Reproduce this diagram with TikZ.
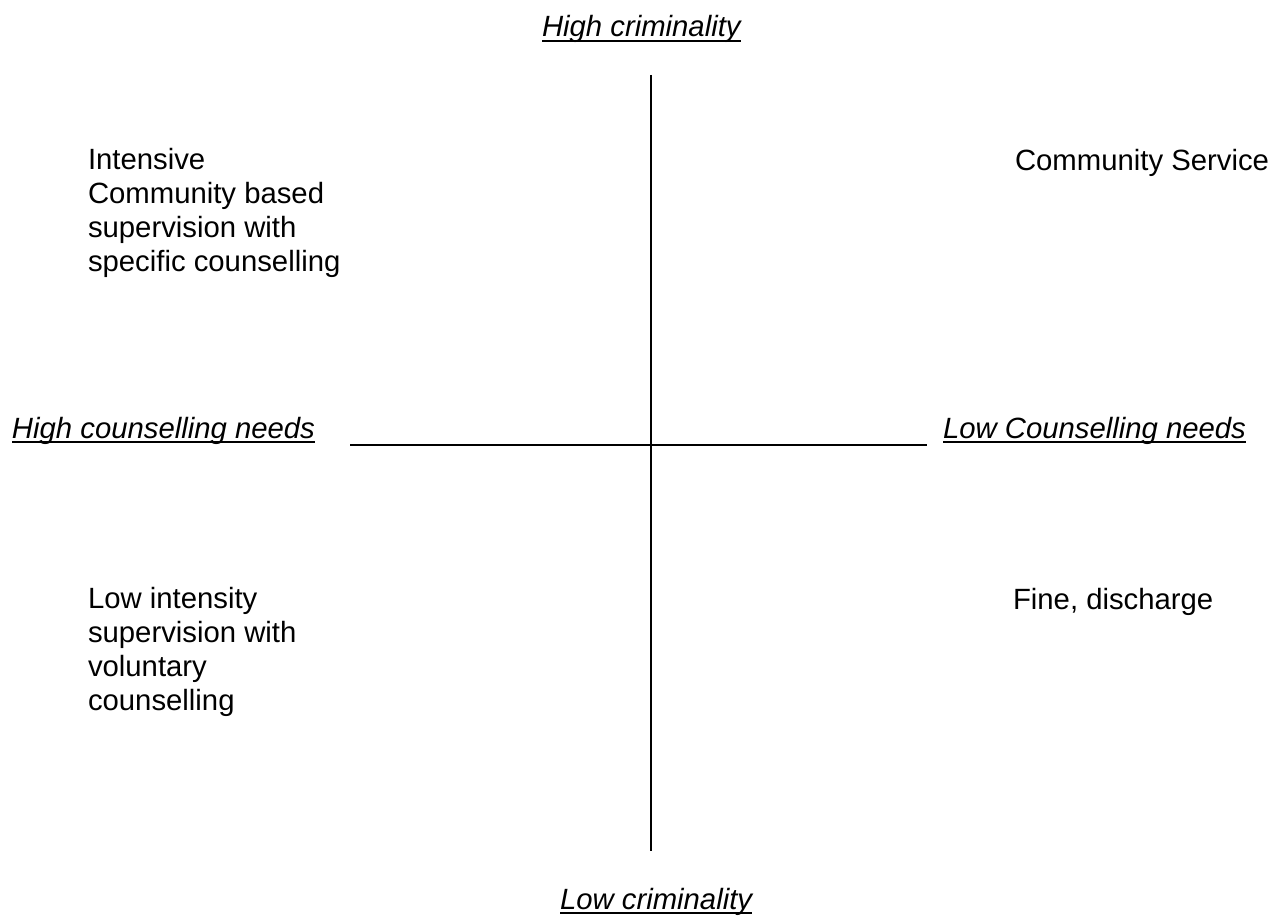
\documentclass[tikz,border=0pt]{standalone}
\usepackage{fontspec}
\setmainfont{Liberation Sans}
\begin{document}
\begin{tikzpicture}[x=1pt,y=-1pt,
  lbl/.style={inner sep=0pt,outer sep=0pt,anchor=base west,font=\fontsize{29.3}{33.7}\selectfont},
  axislbl/.style={lbl,font=\fontsize{29.3}{33.7}\selectfont\itshape},
  quad/.style={lbl,align=left},
  axis/.style={line width=2pt,black},
  uline/.style={line width=1.8pt,black}]
\useasboundingbox (0,0) rectangle (1273,915);
% axes
\coordinate (vtop) at (651,75);
\coordinate (vbot) at (651,851);
\coordinate (hleft) at (350,445);
\coordinate (hright) at (927,445);
\draw[axis] (vtop) -- (vbot);
\draw[axis] (hleft) -- (hright);
% axis labels
\node[axislbl] (hc) at (542,37) {High criminality};
\node[axislbl] (lc) at (560,909) {Low criminality};
\node[axislbl] (hn) at (12,438) {High counselling needs};
\node[axislbl] (ln) at (943,438) {Low Counselling needs};
\foreach \n in {hc,lc,hn,ln}{
  \draw[uline] ([yshift=-4pt]\n.base west) -- ([yshift=-4pt]\n.base east);
}
% quadrant texts (base anchor = baseline of last line)
\node[quad] (q1) at (88,271) {Intensive\\Community based\\supervision with\\specific counselling};
\node[quad] (q2) at (1015,170) {Community Service};
\node[quad] (q3) at (88,710) {Low intensity\\supervision with\\voluntary\\counselling};
\node[quad] (q4) at (1013,609) {Fine, discharge};
\end{tikzpicture}
\end{document}
